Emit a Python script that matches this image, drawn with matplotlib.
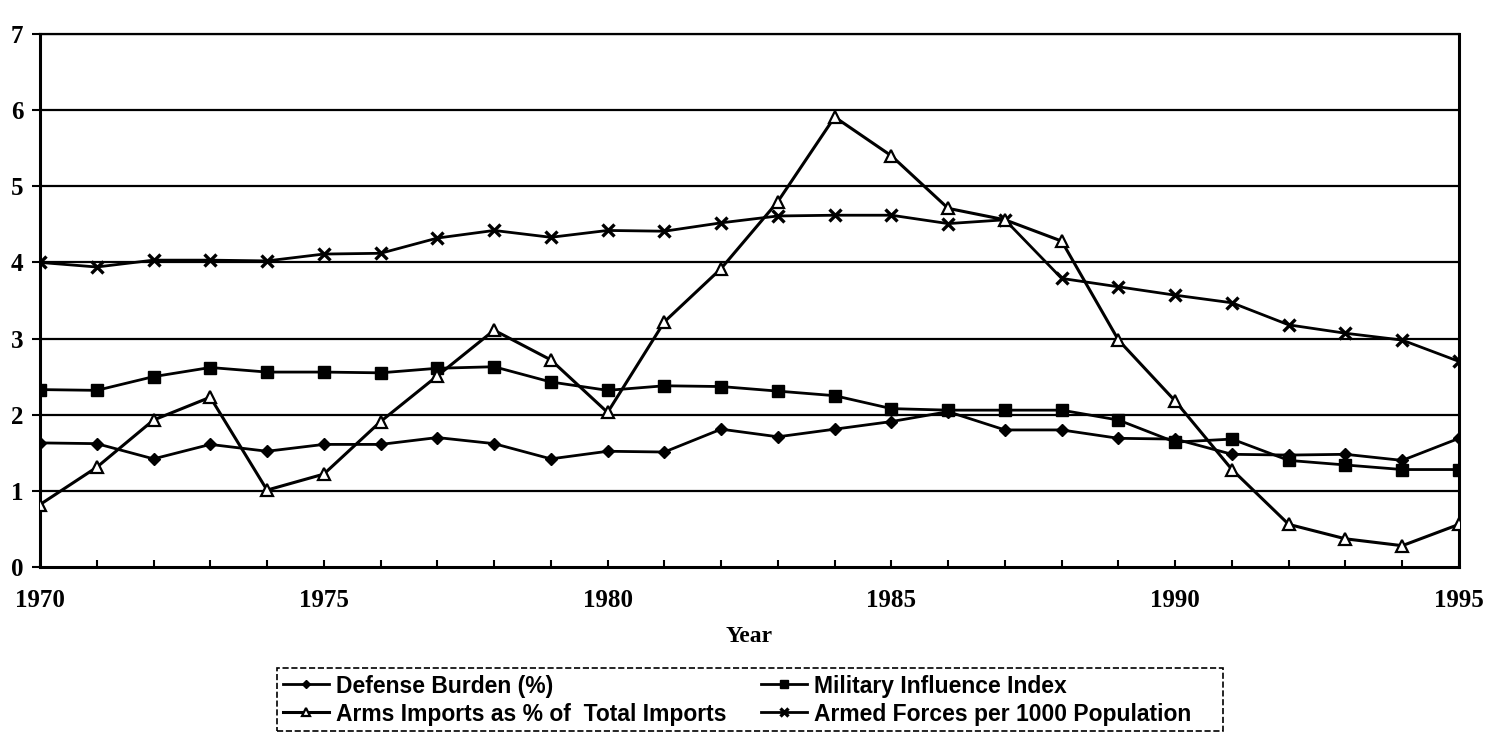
import matplotlib
matplotlib.use("Agg")
import matplotlib.pyplot as plt
from matplotlib.patches import Rectangle

years = list(range(1970, 1996))

defense_burden = [1.63, 1.62, 1.42, 1.61, 1.52, 1.61, 1.61, 1.70, 1.62, 1.42,
                  1.52, 1.51, 1.81, 1.71, 1.81, 1.91, 2.04, 1.80, 1.80, 1.69,
                  1.68, 1.48, 1.47, 1.48, 1.40, 1.69]
military_influence = [2.33, 2.32, 2.50, 2.62, 2.56, 2.56, 2.55, 2.61, 2.63, 2.43,
                      2.32, 2.38, 2.37, 2.31, 2.25, 2.08, 2.06, 2.06, 2.06, 1.93,
                      1.64, 1.68, 1.40, 1.34, 1.28, 1.28]
arms_imports = [0.82, 1.31, 1.93, 2.23, 1.01, 1.22, 1.91, 2.51, 3.11, 2.72,
                2.03, 3.22, 3.92, 4.80, 5.91, 5.40, 4.71, 4.56, 4.28, 2.98,
                2.18, 1.28, 0.56, 0.37, 0.28, 0.56]
armed_forces = [4.00, 3.94, 4.03, 4.03, 4.02, 4.11, 4.12, 4.32, 4.42, 4.33,
                4.42, 4.41, 4.52, 4.61, 4.62, 4.62, 4.51, 4.56, 3.79, 3.68,
                3.57, 3.47, 3.18, 3.07, 2.98, 2.70]

serif = "Liberation Serif"
W, H = 1489, 742

fig = plt.figure(figsize=(14.89, 7.42), dpi=100)
ax = fig.add_axes([40 / W, 1 - 567 / H, 1419 / W, 533 / H])

for v in range(1, 8):
    ax.axhline(v, color="black", lw=1.6, zorder=1)

l1, = ax.plot(years, defense_burden, color="black", lw=2, marker="D", ms=6,
              mfc="black", zorder=3)
l3, = ax.plot(years, arms_imports, color="black", lw=2.2, marker="^", ms=8,
              mfc="white", mec="black", mew=1.6, zorder=4)
l2, = ax.plot(years, military_influence, color="black", lw=2, marker="s", ms=8,
              mfc="black", zorder=3)
l4, = ax.plot(years, armed_forces, color="black", lw=2, marker="x", ms=9,
              mew=2.4, zorder=3)

ax.set_xlim(1970, 1995)
ax.set_ylim(0, 7)
ax.set_xticks(range(1970, 1996, 5))
ax.set_xticks(years, minor=True)
ax.set_yticks(range(0, 8))
ax.tick_params(axis="x", which="both", direction="in", length=5, width=1.5, pad=16)
ax.tick_params(axis="y", direction="out", length=6, width=1.5, pad=6)
for lab in ax.get_xticklabels() + ax.get_yticklabels():
    lab.set_fontfamily(serif)
    lab.set_fontweight("bold")
    lab.set_fontsize(18)

for side in ["left", "bottom", "right"]:
    ax.spines[side].set_linewidth(2.2)
ax.spines["top"].set_linewidth(1.6)

ax.set_xlabel("Year", fontfamily=serif, fontweight="bold", fontsize=17, labelpad=10)

# legend: two columns of entries inside one dashed box, placed like the original
entries = [
    (l1, "Defense Burden (%)", 283, 686),
    (l3, "Arms Imports as % of  Total Imports", 283, 714),
    (l2, "Military Influence Index", 761, 686),
    (l4, "Armed Forces per 1000 Population", 761, 714),
]
for handle, text, px, py in entries:
    fig.legend([handle], [text], loc="center left",
               bbox_to_anchor=(px / W, 1 - py / H),
               prop={"family": "Liberation Sans", "weight": "bold", "size": 16.5},
               frameon=False, handlelength=2.0, handletextpad=0.3,
               borderpad=0, borderaxespad=0, markerscale=0.7)

box = Rectangle((277 / W, 1 - 731 / H), 946 / W, 63 / H, transform=fig.transFigure,
                fill=False, edgecolor="black", lw=1.2, ls="--")
fig.add_artist(box)

fig.savefig("out.png", dpi=100)
